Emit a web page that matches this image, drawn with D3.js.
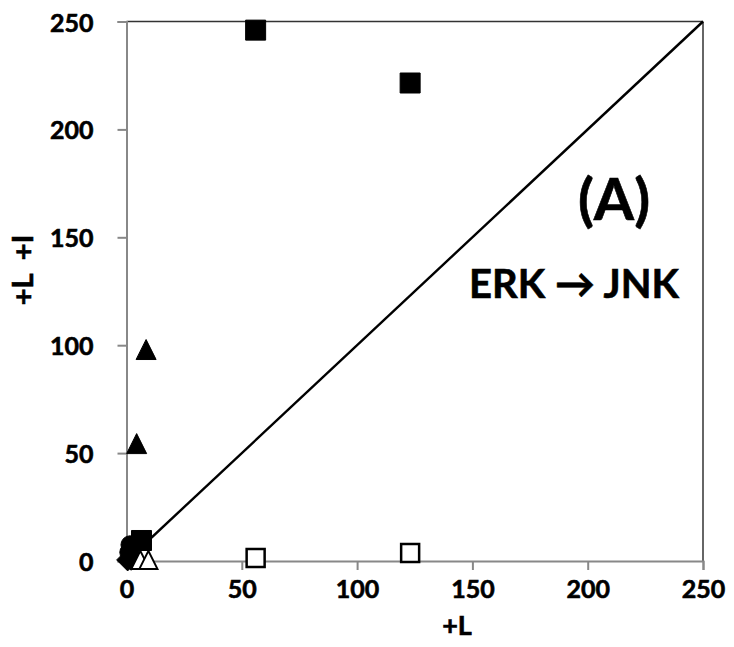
<!DOCTYPE html>
<html><head><meta charset="utf-8">
<script src="https://cdn.jsdelivr.net/npm/d3@7"></script>
<style>body{margin:0;background:#fff}svg text{font-family:Lato,"Open Sans",sans-serif;font-weight:bold;fill:#000;stroke:#000;stroke-width:0.6px}</style>
</head><body>
<svg id="c" width="734" height="647"></svg>
<script>
const xTicks = [0, 50, 100, 150, 200, 250];
const yTicks = [0, 50, 100, 150, 200, 250];
const filledSquares = [[56, 246], [123, 221.5], [6.5, 9.5]];
const openSquares = [[56, 1.4], [123, 3.7]];
const filledTriangles = [[8.5, 98], [4.4, 54.4]];
const openTriangles = [[6, 0.5], [9.5, 0.5]];
const filledCircles = [[1.5, 7.5], [1, 4], [2, 2.5]];
const filledDiamonds = [[0.5, 0.5], [2, 0.8]];
const diagLine = [[0, 0], [250, 250]];

const svg = d3.select("#c");
const x = d3.scaleLinear().domain([0, 250]).range([126.5, 703]);
const y = d3.scaleLinear().domain([0, 250]).range([561, 21.5]);

svg.append("line").attr("x1", x(0)).attr("x2", x(250)).attr("y1", y(250)).attr("y2", y(250)).attr("stroke", "#333").attr("stroke-width", 1.5);
svg.append("line").attr("x1", x(250)).attr("x2", x(250)).attr("y1", y(250)).attr("y2", y(0)).attr("stroke", "#333").attr("stroke-width", 1.5);

const xa = svg.append("g").attr("transform", `translate(0,${y(0)})`)
  .call(d3.axisBottom(x).tickValues(xTicks).tickSize(9).tickPadding(10));
const ya = svg.append("g").attr("transform", `translate(${x(0)},0)`)
  .call(d3.axisLeft(y).tickValues(yTicks).tickSize(9).tickPadding(24));
[xa, ya].forEach(a => {
  a.select(".domain").attr("stroke", "#888").attr("stroke-width", 2);
  a.selectAll(".tick line").attr("stroke", "#888").attr("stroke-width", 2);
  a.selectAll("text").attr("font-size", 25).attr("font-family", "Lato").attr("font-weight", "bold").attr("fill", "#000");
});
ya.selectAll("text").attr("dy", "0.38em");

svg.append("path").datum(diagLine)
  .attr("d", d3.line().x(d => x(d[0])).y(d => y(d[1])))
  .attr("stroke", "#000").attr("stroke-width", 2.4).attr("fill", "none");

const sq = s => `M${-s/2},${-s/2}h${s}v${s}h${-s}z`;
const tri = s => `M0,${-s/2}L${s/2},${s/2}L${-s/2},${s/2}z`;
const dia = s => `M0,${-s/2}L${s/2},0L0,${s/2}L${-s/2},0z`;
const circ = s => d3.symbol(d3.symbolCircle, Math.PI * s * s / 4)();

function plot(data, pathStr, fill, stroke, sw) {
  svg.append("g").selectAll("path").data(data).join("path")
    .attr("transform", d => `translate(${x(d[0])},${y(d[1])})`)
    .attr("d", pathStr)
    .attr("fill", fill).attr("stroke", stroke).attr("stroke-width", sw);
}
plot(filledDiamonds, dia(22), "#000", "#000", 1);
plot(filledCircles, circ(18), "#000", "#000", 1);
plot(filledSquares, sq(20), "#000", "#000", 1);
plot(filledTriangles, tri(20), "#000", "#000", 1);
plot(openSquares, sq(18), "#fff", "#000", 2.5);
plot(openTriangles, tri(18), "#fff", "#000", 2);

svg.append("text").attr("x", 457).attr("y", 635).attr("text-anchor", "middle").attr("font-size", 27).text("+L");
svg.append("text").attr("transform", `translate(33,270) rotate(-90)`).attr("text-anchor", "middle").attr("font-size", 29).attr("xml:space", "preserve").text("+L  +I");
svg.append("text").attr("x", 614).attr("y", 220).attr("text-anchor", "middle").attr("font-size", 58).attr("stroke-width", 1).text("(A)");
svg.append("text").attr("x", 574).attr("y", 298).attr("text-anchor", "middle").attr("font-size", 40).attr("stroke-width", 0.8).text("ERK \u2192 JNK");
</script>
</body></html>
